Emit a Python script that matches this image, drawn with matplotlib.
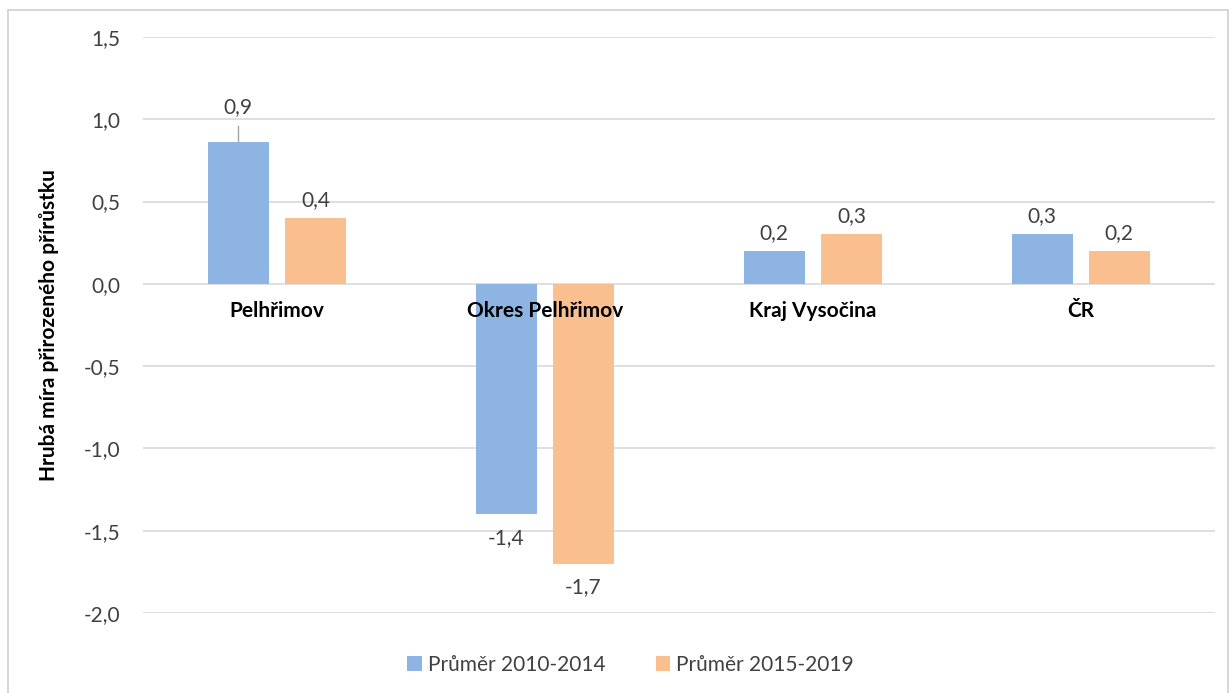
import matplotlib.pyplot as plt
import matplotlib.patches as mpatches
import numpy as np

plt.rcParams['font.family'] = ['Lato', 'DejaVu Sans']

categories = ['Pelhřimov', 'Okres Pelhřimov', 'Kraj Vysočina', 'ČR']
avg_2010_2014 = [0.86, -1.4, 0.2, 0.3]
avg_2015_2019 = [0.4, -1.7, 0.3, 0.2]
series_names = ['Průměr 2010-2014', 'Průměr 2015-2019']
colors = ['#8DB4E2', '#FABF8F']

fig = plt.figure(figsize=(12.32, 6.93), dpi=100)
ax = fig.add_axes([0.116, 0.1154, 0.87, 0.8312])

# outer chart frame
fig.patches.append(mpatches.Rectangle((0.0065, -0.01), 0.99, 0.995, transform=fig.transFigure,
                                      fill=False, edgecolor='#d0d0d0', lw=1.2))

x = np.arange(len(categories))
w = 0.228
off = 0.144
b1 = ax.bar(x - off, avg_2010_2014, w, color=colors[0], label=series_names[0], zorder=3)
b2 = ax.bar(x + off, avg_2015_2019, w, color=colors[1], label=series_names[1], zorder=3)

def fmt(v):
    return f'{v:.1f}'.replace('.', ',')

fs = 15
for bars, vals in [(b1, avg_2010_2014), (b2, avg_2015_2019)]:
    for r, v in zip(bars, vals):
        cx = r.get_x() + r.get_width() / 2
        if v >= 0:
            ax.annotate(fmt(v), (cx, v), xytext=(0, 6), textcoords='offset points',
                        ha='center', va='bottom', fontsize=fs, color='#404040')
        else:
            ax.annotate(fmt(v), (cx, v), xytext=(0, -10), textcoords='offset points',
                        ha='center', va='top', fontsize=fs, color='#404040')

# first label was moved up by hand, with a leader line
ax.plot([x[0] - off, x[0] - off], [avg_2010_2014[0], avg_2010_2014[0] + 0.1], color='#a6a6a6', lw=1, zorder=2)
ax.texts[0].xyann = (0, 18)

for i, c in enumerate(categories):
    ax.annotate(c, (x[i], 0), xytext=(0, -12), textcoords='offset points',
                ha='center', va='top', fontsize=fs, fontweight='bold', color='black')

ax.set_xlim(-0.5, 3.5)
ax.set_ylim(-2.0, 1.5)
ticks = np.arange(-2.0, 1.51, 0.5)
ax.set_yticks(ticks)
ax.set_yticklabels([fmt(t) for t in ticks], fontsize=fs, color='#404040')
ax.set_xticks([])
ax.tick_params(axis='y', length=0, pad=16)
ax.grid(axis='y', color='#d9d9d9', lw=1.2, zorder=0)
for s in ax.spines.values():
    s.set_visible(False)
ax.set_ylabel('Hrubá míra přirozeného přírůstku', fontsize=fs, fontweight='bold', labelpad=18)

ax.legend(loc='upper center', bbox_to_anchor=(0.455, -0.04), ncol=2, frameon=False, fontsize=fs,
          handlelength=0.7, handleheight=0.7, columnspacing=2.4, handletextpad=0.3, labelcolor='#404040')

fig.savefig('out.png', dpi=100)
